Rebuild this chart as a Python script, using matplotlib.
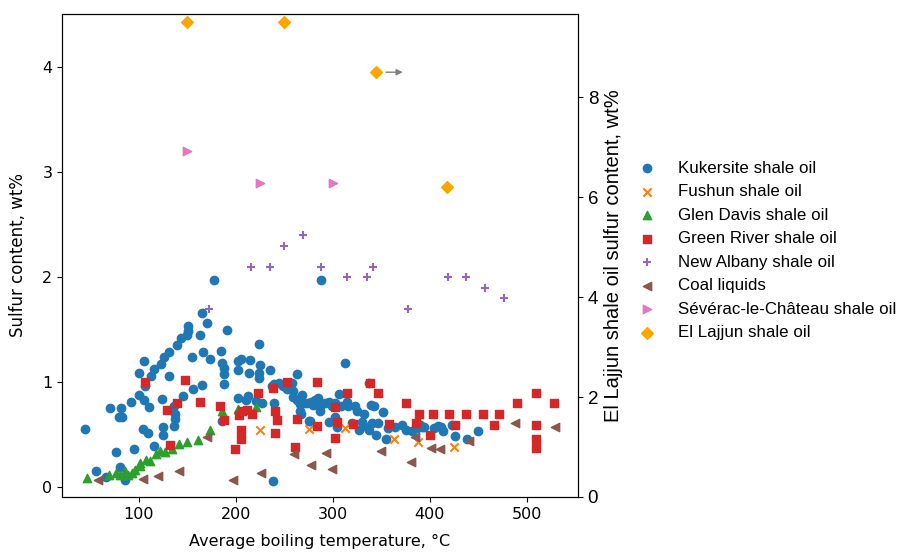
import numpy as np
import matplotlib
matplotlib.use("Agg")
import matplotlib.pyplot as plt

# Kukersite shale oil
kuk_t = [177, 165, 170, 191, 151, 151, 150, 163, 143, 139, 131, 126, 123, 116, 112, 105, 100, 131,
         106, 100, 92, 105, 110, 70, 81, 79, 82, 124, 136, 145, 156, 165, 155, 166, 173, 185, 186,
         188, 188, 188, 186, 137, 137, 136, 125, 125, 104, 109, 44, 116, 95, 76, 56, 80, 66, 86,
         238, 202, 205, 202, 213, 215, 224, 225, 224, 224, 235, 263, 202, 212, 210, 221, 227, 239,
         237, 239, 244, 249, 253, 258, 259, 259, 263, 266, 266, 267, 275, 273,
         268, 270, 277, 280, 282, 285, 287, 287, 292, 296, 299, 302, 306, 308, 315, 316, 276, 296,
         302, 304, 320, 323, 325, 327, 330, 332, 335, 337, 339, 340, 342, 345, 347, 352, 355, 357,
         364, 371, 376, 382, 387, 392, 337, 390, 394, 404, 409, 412, 414, 423, 426, 438, 450,
         288, 313]
kuk_s = [1.97, 1.66, 1.56, 1.50, 1.53, 1.49, 1.45, 1.45, 1.42, 1.35, 1.29, 1.24, 1.17, 1.12, 1.06,
         1.20, 1.09, 1.06, 0.96, 0.88, 0.81, 0.83, 0.76, 0.75, 0.75, 0.67, 0.67, 0.84, 0.77, 0.87,
         0.93, 0.97, 1.24, 1.29, 1.22, 1.30, 1.18, 1.13, 1.08, 0.98, 0.63, 0.70, 0.65, 0.58, 0.57,
         0.50, 0.55, 0.51, 0.55, 0.39, 0.36, 0.33, 0.15, 0.19, 0.10, 0.07,
         0.06, 1.20, 1.22, 1.11, 1.09, 1.21, 1.36, 1.16, 1.09, 1.04, 1.11, 1.08, 0.85, 0.87, 0.83,
         0.82, 0.80, 0.80, 0.96, 0.98, 0.99, 0.96, 0.93, 0.99, 0.91, 0.86, 0.83, 0.79, 0.72, 0.70,
         0.63, 0.80,
         0.88, 0.80, 0.81, 0.78, 0.83, 0.85, 0.77, 0.72, 0.80, 0.81, 0.77, 0.80, 0.89, 0.77, 0.81,
         0.77, 0.63, 0.62, 0.67, 0.57, 0.61, 0.77, 0.72, 0.54, 0.62, 0.70, 0.57, 0.54, 0.78, 0.61,
         0.77, 0.50, 0.61, 0.71, 0.46, 0.56, 0.57, 0.59, 0.54, 0.53, 0.56, 0.57, 0.99, 0.59, 0.57,
         0.56, 0.58, 0.57, 0.53, 0.59, 0.49, 0.46, 0.53,
         1.97, 1.18]

# Fushun shale oil
fus_t = [225, 275, 313, 363, 388, 425]
fus_s = [0.54, 0.55, 0.56, 0.46, 0.43, 0.38]

# Glen Davis shale oil
gd_t = [46, 69, 76, 80, 86, 89, 93, 96, 101, 101, 107, 111, 118, 122, 127, 134, 141, 150, 161,
        173, 186, 202, 221]
gd_s = [0.09, 0.11, 0.13, 0.11, 0.155, 0.11, 0.13, 0.16, 0.20, 0.23, 0.26, 0.25, 0.31, 0.34,
        0.33, 0.36, 0.41, 0.43, 0.45, 0.54, 0.72, 0.74, 0.765]

# Green River shale oil
gr_t = [106, 147, 139, 129, 163, 132, 184, 188, 203, 205, 205, 206, 199, 211, 217, 223, 238, 240,
        242, 240, 253, 263, 261, 284, 315, 338, 347, 376, 389, 403, 420, 437, 455, 471, 490, 510,
        528, 466, 510, 510, 510, 302, 284, 302, 304, 321, 358, 386, 400, 426]
gr_s = [1.00, 1.02, 0.80, 0.73, 0.81, 0.40, 0.77, 0.64, 0.69, 0.54, 0.46, 0.72, 0.36, 0.73, 0.70,
        0.90, 0.94, 0.72, 0.64, 0.51, 1.00, 0.65, 0.38, 1.00, 0.90, 0.99, 0.90, 0.80, 0.70, 0.70,
        0.70, 0.70, 0.70, 0.70, 0.80, 0.90, 0.80, 0.59, 0.59, 0.46, 0.37, 0.76, 0.58, 0.47, 0.62,
        0.60, 0.60, 0.61, 0.50, 0.59]

# New Albany shale oil
na_t = [172, 216, 235, 250, 269, 288, 315, 335, 341, 378, 419, 437, 457, 477]
na_s = [1.7, 2.1, 2.1, 2.3, 2.4, 2.1, 2.0, 2.0, 2.1, 1.7, 2.0, 2.0, 1.9, 1.8]

# Coal liquids
coal_t = [58, 104, 120, 141, 170, 197, 226, 260, 278, 293, 299, 350, 381, 385, 401, 411, 441,
          488, 529]
coal_s = [0.07, 0.08, 0.105, 0.15, 0.48, 0.07, 0.13, 0.31, 0.21, 0.32, 0.17, 0.345, 0.24, 0.48,
          0.37, 0.36, 0.44, 0.61, 0.57]

# Sévérac-le-Château shale oil
sev_t = [150, 225, 300]
sev_s = [3.2, 2.9, 2.9]

# El Lajjun shale oil (right axis)
ell_t = [150, 250, 345, 418]
ell_s = [9.5, 9.5, 8.5, 6.2]

fig = plt.figure(figsize=(9.03, 5.53), dpi=100)
ax = fig.add_axes([0.0687, 0.1013, 0.5714, 0.8734])
ax2 = ax.twinx()

ax.scatter(kuk_t, kuk_s, color="tab:blue", marker="o", label="Kukersite shale oil")
ax.scatter(fus_t, fus_s, color="tab:orange", marker="x", label="Fushun shale oil")
ax.scatter(gd_t, gd_s, color="tab:green", marker="^", label="Glen Davis shale oil")
ax.scatter(gr_t, gr_s, color="tab:red", marker="s", label="Green River shale oil")
ax.scatter(na_t, na_s, color="tab:purple", marker="+", label="New Albany shale oil")
ax.scatter(coal_t, coal_s, color="tab:brown", marker="<", label="Coal liquids")
ax.scatter(sev_t, sev_s, color="tab:pink", marker=">", label="Sévérac-le-Château shale oil")
ax2.scatter(ell_t, ell_s, color="orange", marker="D", label="El Lajjun shale oil")

# boiling point of the last El Lajjun fraction is a lower bound
ax2.annotate("", xy=(375, ell_s[2]), xytext=(352, ell_s[2]),
             arrowprops=dict(arrowstyle="-|>", color="grey", lw=1, mutation_scale=9))

ax.set_xlim(20.6, 553)
ax.set_ylim(-0.095, 4.505)
ax2.set_ylim(0, 9.665)
ax.set_xticks([100, 200, 300, 400, 500])
ax.set_yticks([0, 1, 2, 3, 4])
ax2.set_yticks([0, 2, 4, 6, 8])

ax.tick_params(labelsize=11.5)
ax2.tick_params(labelsize=13.5)
for lab in ax2.get_yticklabels():
    lab.set_family("Liberation Sans")

ax.set_xlabel("Average boiling temperature, °C", fontsize=11.5, labelpad=9)
ax.set_ylabel("Sulfur content, wt%", fontsize=12, labelpad=11)
ax2.set_ylabel("El Lajjun shale oil sulfur content, wt%", fontsize=14.5,
               family="Liberation Sans")

h1, l1 = ax.get_legend_handles_labels()
h2, l2 = ax2.get_legend_handles_labels()
fig.legend(h1 + h2, l1 + l2, loc="center left", bbox_to_anchor=(0.6906, 0.547),
           frameon=False, prop={"family": "Liberation Sans", "size": 12.2},
           labelspacing=0.5, borderaxespad=0)

fig.savefig("out.png", dpi=100)
